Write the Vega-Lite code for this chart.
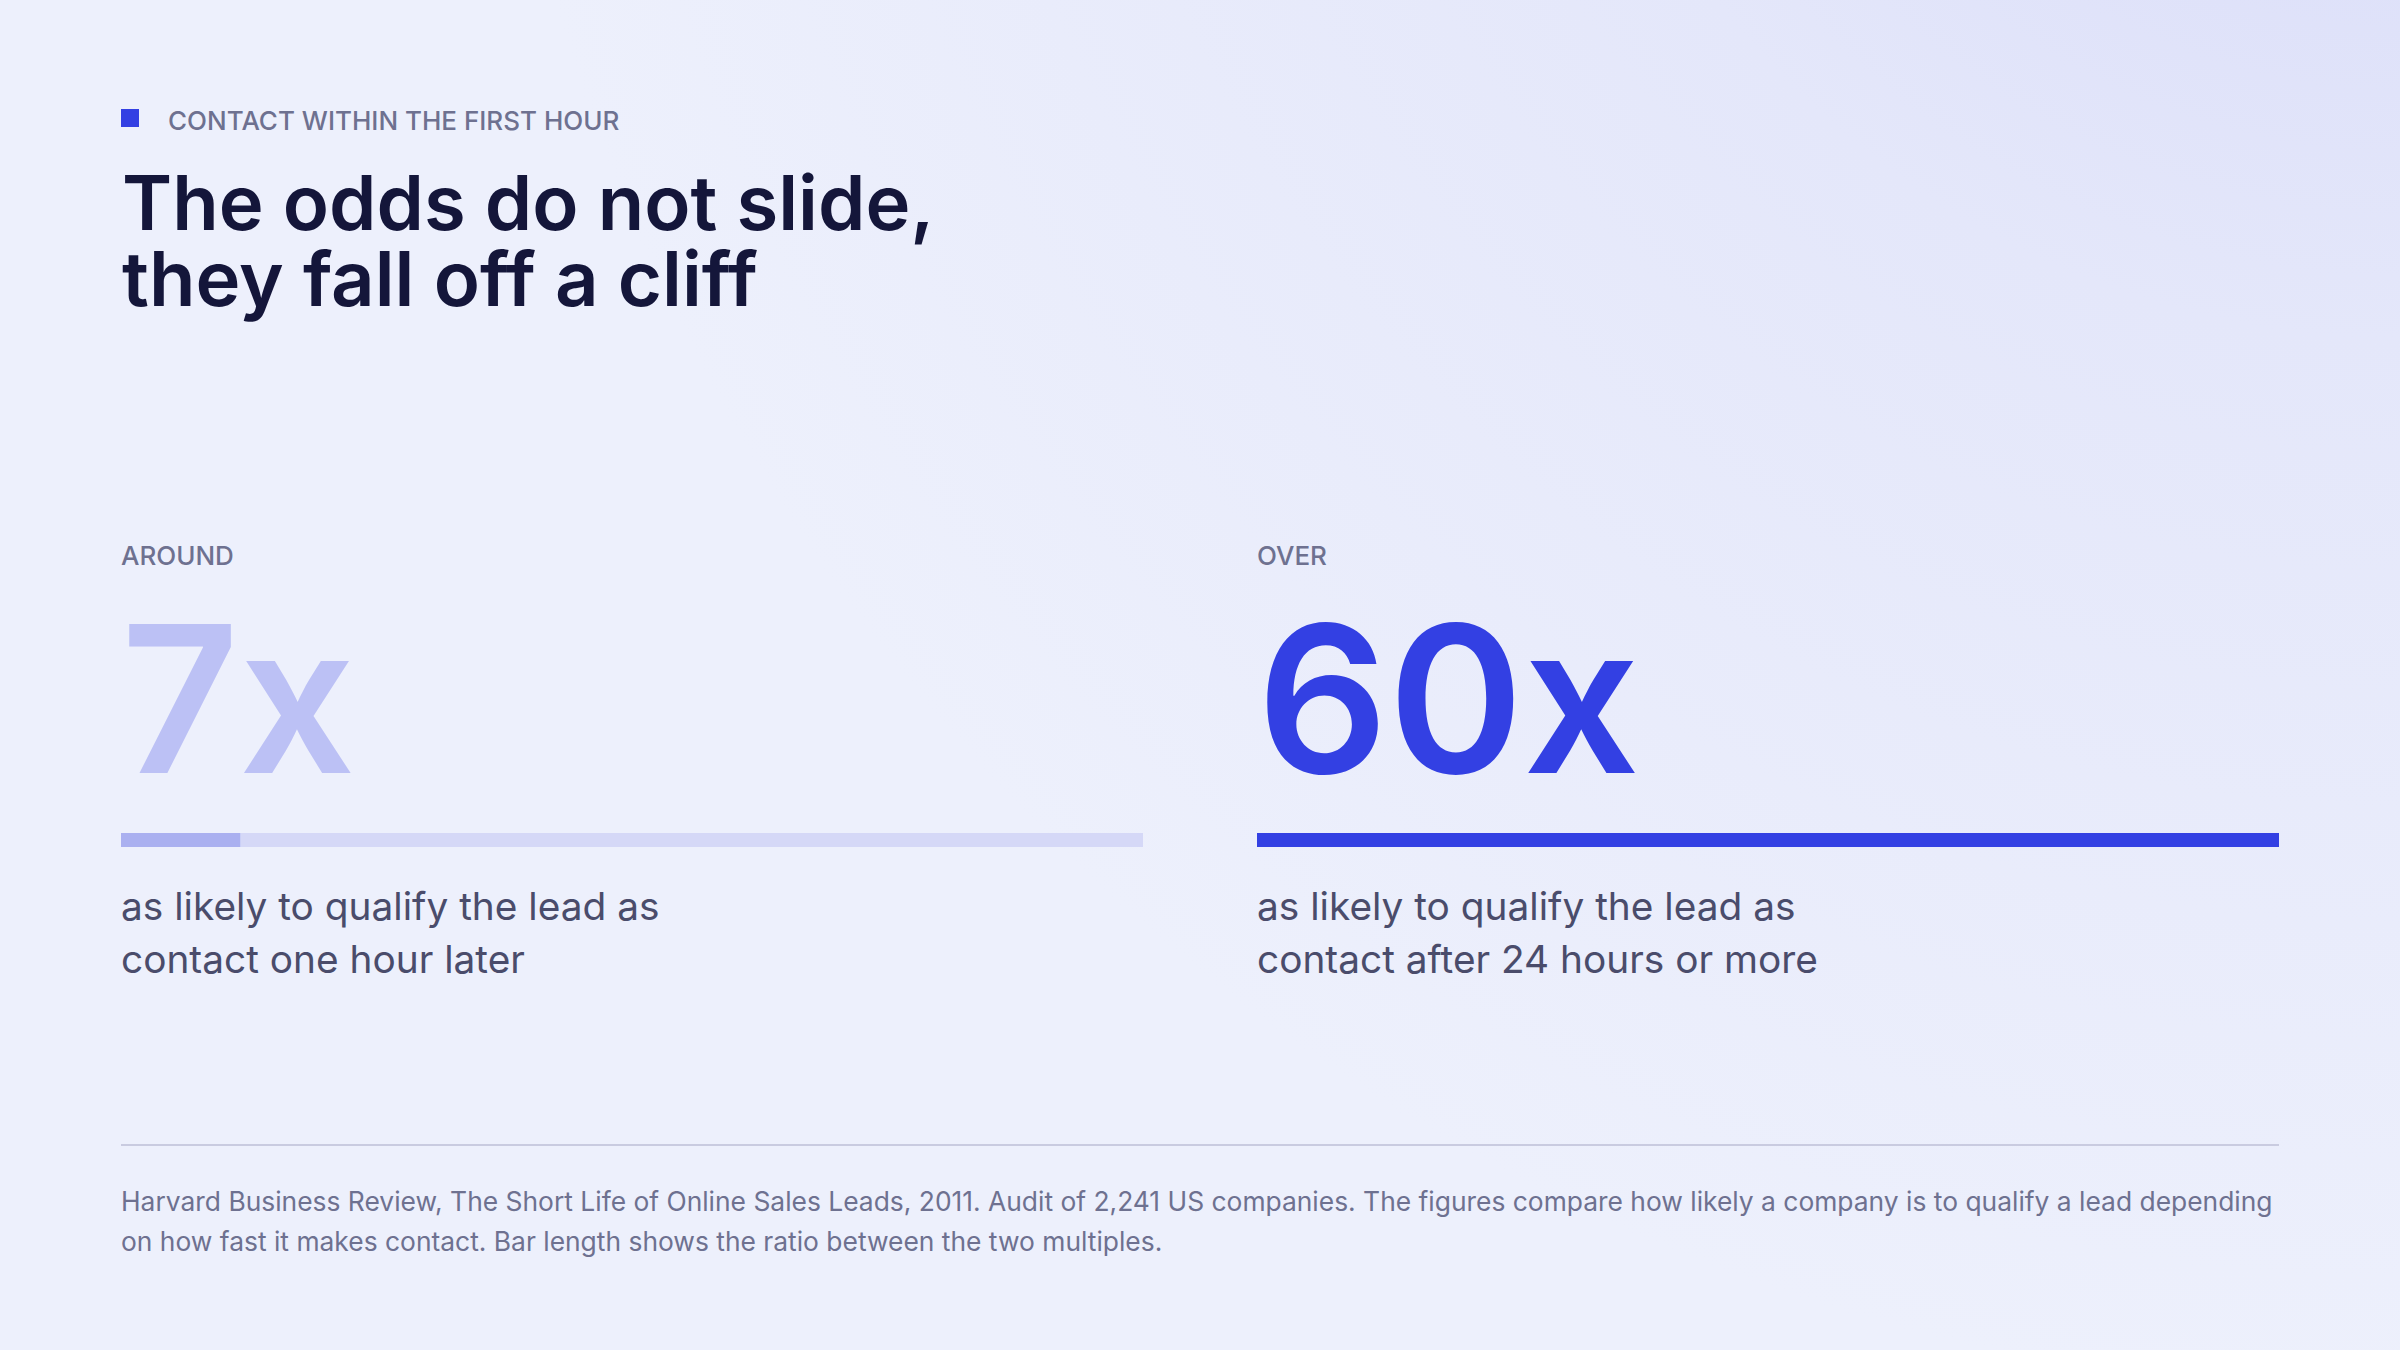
{
  "$schema": "https://vega.github.io/schema/vega-lite/v6.json",
  "width": 2400,
  "height": 1350,
  "autosize": {"type": "fit", "contains": "padding"},
  "padding": 0,
  "background": "#edf0fc",
  "config": {
    "view": {
      "stroke": null,
      "fill": {
        "gradient": "radial",
        "x1": 1, "y1": 0, "r1": 0,
        "x2": 1, "y2": 0, "r2": 0.8,
        "stops": [
          {"offset": 0, "color": "#d6d9f8"},
          {"offset": 0.45, "color": "#e4e7fa"},
          {"offset": 1, "color": "#edf0fc"}
        ]
      }
    },
    "text": {"font": "Inter"}
  },
  "datasets": {
    "stats": [
      {"side": "left", "qualifier": "AROUND", "multiple": 7, "label": "7x", "max": 60, "description": ["as likely to qualify the lead as", "contact one hour later"]},
      {"side": "right", "qualifier": "OVER", "multiple": 60, "label": "60x", "max": 60, "description": ["as likely to qualify the lead as", "contact after 24 hours or more"]}
    ],
    "header": [
      {"kicker": "CONTACT WITHIN THE FIRST HOUR", "headline": ["The odds do not slide,", "they fall off a cliff"], "source": ["Harvard Business Review, The Short Life of Online Sales Leads, 2011. Audit of 2,241 US companies. The figures compare how likely a company is to qualify a lead depending", "on how fast it makes contact. Bar length shows the ratio between the two multiples."]}
    ]
  },
  "resolve": {"scale": {"x": "independent"}},
  "layer": [
    {
      "data": {"name": "header"},
      "layer": [
        {
          "mark": {"type": "square", "filled": true, "size": 324, "color": "#3340e3", "opacity": 1},
          "encoding": {"x": {"value": 130}, "y": {"value": 118}}
        },
        {
          "mark": {"type": "text", "align": "left", "baseline": "alphabetic", "fontSize": 26, "fontWeight": 500, "color": "#6e7190"},
          "encoding": {"x": {"value": 168}, "y": {"value": 130}, "text": {"field": "kicker"}}
        },
        {
          "mark": {"type": "text", "align": "left", "baseline": "alphabetic", "fontSize": 76, "fontWeight": 600, "lineHeight": 76, "color": "#14163a"},
          "encoding": {"x": {"value": 122}, "y": {"value": 230}, "text": {"field": "headline"}}
        },
        {
          "mark": {"type": "rule", "color": "#c9cbe0", "strokeWidth": 2},
          "encoding": {"x": {"value": 121}, "x2": {"value": 2279}, "y": {"value": 1145}}
        },
        {
          "mark": {"type": "text", "align": "left", "baseline": "alphabetic", "fontSize": 26.4, "lineHeight": 40, "color": "#6e7190"},
          "encoding": {"x": {"value": 121}, "y": {"value": 1211}, "text": {"field": "source"}}
        }
      ]
    },
    {
      "data": {"name": "stats"},
      "transform": [{"filter": "datum.side === 'left'"}],
      "layer": [
        {
          "mark": {"type": "bar", "color": "#d5d8f7"},
          "encoding": {"x": {"field": "max", "type": "quantitative", "scale": {"domain": [0, 60], "range": [121, 1143], "nice": false, "zero": true}, "axis": null}, "x2": {"datum": 0}, "y": {"value": 833}, "y2": {"value": 847}}
        },
        {
          "mark": {"type": "bar", "color": "#aab0f0"},
          "encoding": {"x": {"field": "multiple", "type": "quantitative"}, "x2": {"datum": 0}, "y": {"value": 833}, "y2": {"value": 847}}
        },
        {
          "mark": {"type": "text", "align": "left", "baseline": "alphabetic", "fontSize": 26, "fontWeight": 500, "color": "#6e7190"},
          "encoding": {"x": {"datum": 0, "type": "quantitative"}, "y": {"value": 565}, "text": {"field": "qualifier"}}
        },
        {
          "mark": {"type": "text", "align": "left", "baseline": "alphabetic", "fontSize": 205, "fontWeight": 600, "color": "#bcc1f5"},
          "encoding": {"x": {"datum": 0, "type": "quantitative"}, "y": {"value": 773}, "text": {"field": "label"}}
        },
        {
          "mark": {"type": "text", "align": "left", "baseline": "alphabetic", "fontSize": 38.8, "lineHeight": 53, "color": "#4a4c6b"},
          "encoding": {"x": {"datum": 0, "type": "quantitative"}, "y": {"value": 920}, "text": {"field": "description"}}
        }
      ]
    },
    {
      "data": {"name": "stats"},
      "transform": [{"filter": "datum.side === 'right'"}],
      "layer": [
        {
          "mark": {"type": "bar", "color": "#d5d8f7"},
          "encoding": {"x": {"field": "max", "type": "quantitative", "scale": {"domain": [0, 60], "range": [1257, 2279], "nice": false, "zero": true}, "axis": null}, "x2": {"datum": 0}, "y": {"value": 833}, "y2": {"value": 847}}
        },
        {
          "mark": {"type": "bar", "color": "#3340e3"},
          "encoding": {"x": {"field": "multiple", "type": "quantitative"}, "x2": {"datum": 0}, "y": {"value": 833}, "y2": {"value": 847}}
        },
        {
          "mark": {"type": "text", "align": "left", "baseline": "alphabetic", "fontSize": 26, "fontWeight": 500, "color": "#6e7190"},
          "encoding": {"x": {"datum": 0, "type": "quantitative"}, "y": {"value": 565}, "text": {"field": "qualifier"}}
        },
        {
          "mark": {"type": "text", "align": "left", "baseline": "alphabetic", "fontSize": 205, "fontWeight": 600, "color": "#3340e3"},
          "encoding": {"x": {"datum": 0, "type": "quantitative"}, "y": {"value": 773}, "text": {"field": "label"}}
        },
        {
          "mark": {"type": "text", "align": "left", "baseline": "alphabetic", "fontSize": 38.8, "lineHeight": 53, "color": "#4a4c6b"},
          "encoding": {"x": {"datum": 0, "type": "quantitative"}, "y": {"value": 920}, "text": {"field": "description"}}
        }
      ]
    }
  ]
}
